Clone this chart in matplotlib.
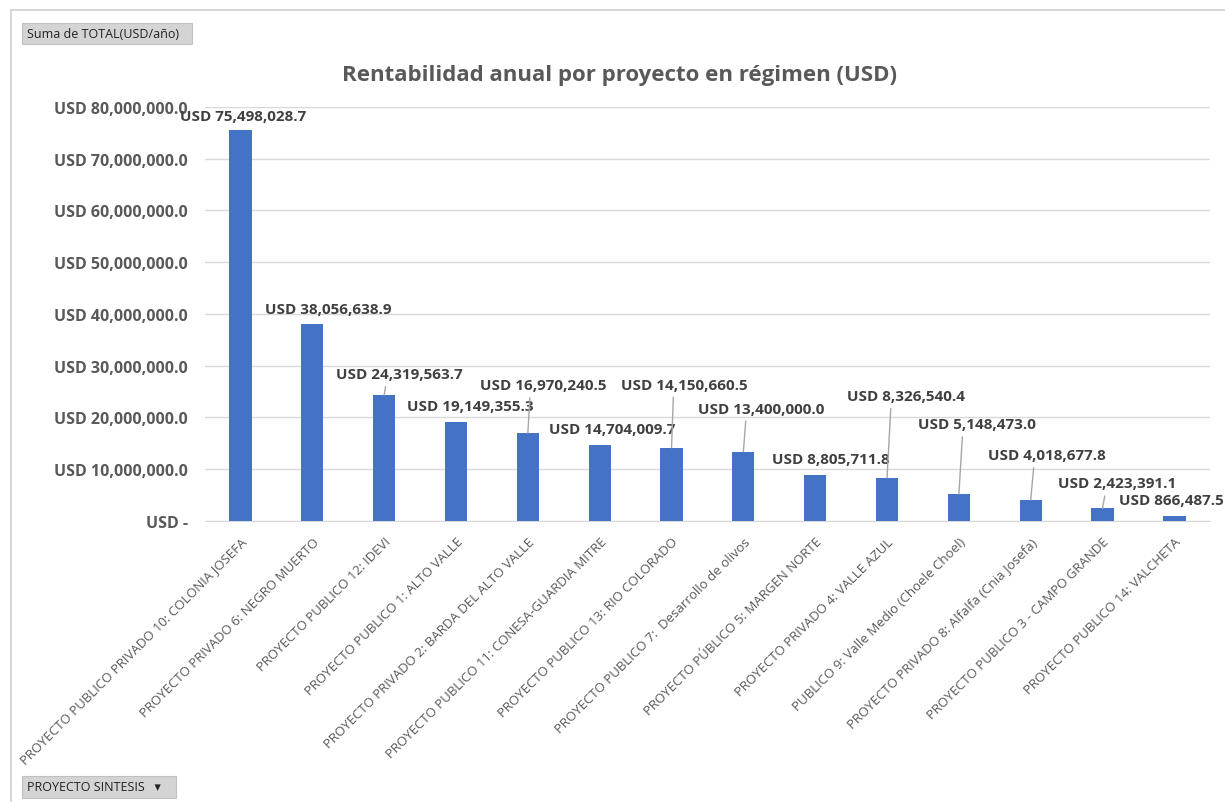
import matplotlib.pyplot as plt
from matplotlib.patches import Rectangle
from matplotlib.lines import Line2D
from matplotlib.ticker import FuncFormatter

plt.rcParams['font.family'] = ['Open Sans', 'DejaVu Sans']

# Annual profitability per project (USD)
proyectos = [
    "PROYECTO PUBLICO PRIVADO 10: COLONIA JOSEFA",
    "PROYECTO PRIVADO 6: NEGRO MUERTO",
    "PROYECTO PUBLICO 12: IDEVI",
    "PROYECTO PUBLICO 1: ALTO VALLE",
    "PROYECTO PRIVADO 2: BARDA DEL ALTO VALLE",
    "PROYECTO PUBLICO 11: CONESA-GUARDIA MITRE",
    "PROYECTO PUBLICO 13: RIO COLORADO",
    "PROYECTO PUBLICO 7:  Desarrollo de olivos",
    "PROYECTO PÚBLICO 5: MARGEN NORTE",
    "PROYECTO PRIVADO 4: VALLE AZUL",
    "PUBLICO 9: Valle Medio (Choele Choel)",
    "PROYECTO PRIVADO 8: Alfalfa (Cnia Josefa)",
    "PROYECTO PUBLICO 3 - CAMPO GRANDE",
    "PROYECTO PUBLICO 14: VALCHETA",
]
total_usd = [
    75498028.7, 38056638.9, 24319563.7, 19149355.3, 16970240.5,
    14704009.7, 14150660.5, 13400000.0, 8805711.8, 8326540.4,
    5148473.0, 4018677.8, 2423391.1, 866487.5,
]

# label offsets from bar top (pixels) and whether a leader line is drawn
label_offsets = [
    (3, 14), (16, 15), (15, 21), (14, 16), (15, 48), (13, 16), (13, 63),
    (18, 43), (16, 16), (19, 82), (18, 70), (16, 45), (15, 25), (-3, 16),
]
leaders = [False, False, True, False, True, False, True,
           True, False, True, True, True, True, False]

BLUE = "#4472C4"
GREY = "#595959"

fig = plt.figure(figsize=(12.25, 8.03), dpi=100)
ax = fig.add_axes([0.167, 0.350, 0.821, 0.5155])

x = range(len(proyectos))
ax.bar(x, total_usd, width=0.31, color=BLUE, zorder=3)

ax.set_xlim(-0.5, len(proyectos) - 0.5)
ax.set_ylim(0, 80_000_000)
ax.set_yticks(range(0, 80_000_001, 10_000_000))


def usd(v, pos=None):
    if v == 0:
        return "USD -"
    return f"USD {v:,.1f}"


ax.yaxis.set_major_formatter(FuncFormatter(usd))
ax.tick_params(axis='y', length=0, pad=12, labelsize=11.5, labelcolor=GREY)
for t in ax.get_yticklabels():
    t.set_fontweight('bold')

ax.set_xticks(list(x))
ax.set_xticklabels(proyectos, rotation=45, ha='right', rotation_mode='anchor',
                   fontsize=9.5, color=GREY)
ax.tick_params(axis='x', length=0, pad=10)

ax.grid(axis='y', color='#d9d9d9', linewidth=1, zorder=0)
for s in ['top', 'right', 'left']:
    ax.spines[s].set_visible(False)
ax.spines['bottom'].set_color('#d9d9d9')

# data labels
for i, v in enumerate(total_usd):
    dx, dy = label_offsets[i]
    props = None
    if leaders[i]:
        props = dict(arrowstyle='-', color='#a6a6a6', lw=1, shrinkA=2, shrinkB=0,
                     relpos=(0.5 - dx / 150, 0))
    ax.annotate(usd(v), xy=(i, v), xytext=(dx, dy), textcoords='offset pixels',
                ha='center', va='center', fontsize=11, fontweight='bold',
                color='#404040', arrowprops=props, zorder=4)

fig.text(0.506, 0.906, "Rentabilidad anual por proyecto en régimen (USD)",
         ha='center', va='center', fontsize=16, fontweight='bold', color=GREY)

# outer frame (top and left edges)
fig.add_artist(Line2D([11 / 1225, 1], [1 - 11 / 803, 1 - 11 / 803],
                      color='#d0d0d0', lw=1.2, transform=fig.transFigure))
fig.add_artist(Line2D([11 / 1225, 11 / 1225], [0, 1 - 11 / 803],
                      color='#d0d0d0', lw=1.2, transform=fig.transFigure))

# pivot field buttons
fig.add_artist(Rectangle((22 / 1225, 1 - 45 / 803), 170 / 1225, 21 / 803,
                         transform=fig.transFigure, facecolor='#d4d4d4',
                         edgecolor='#c0c0c0', lw=0.8))
fig.text(27 / 1225, 1 - 34.5 / 803, "Suma de TOTAL(USD/año)", ha='left', va='center',
         fontsize=9, color='#222222')
fig.add_artist(Rectangle((22 / 1225, 1 - 799 / 803), 154 / 1225, 22 / 803,
                         transform=fig.transFigure, facecolor='#d4d4d4',
                         edgecolor='#c0c0c0', lw=0.8))
fig.text(27 / 1225, 1 - 788 / 803, "PROYECTO SINTESIS   ▾", ha='left', va='center',
         fontsize=9, color='#222222')

fig.savefig("out.png", dpi=100, facecolor='white')
